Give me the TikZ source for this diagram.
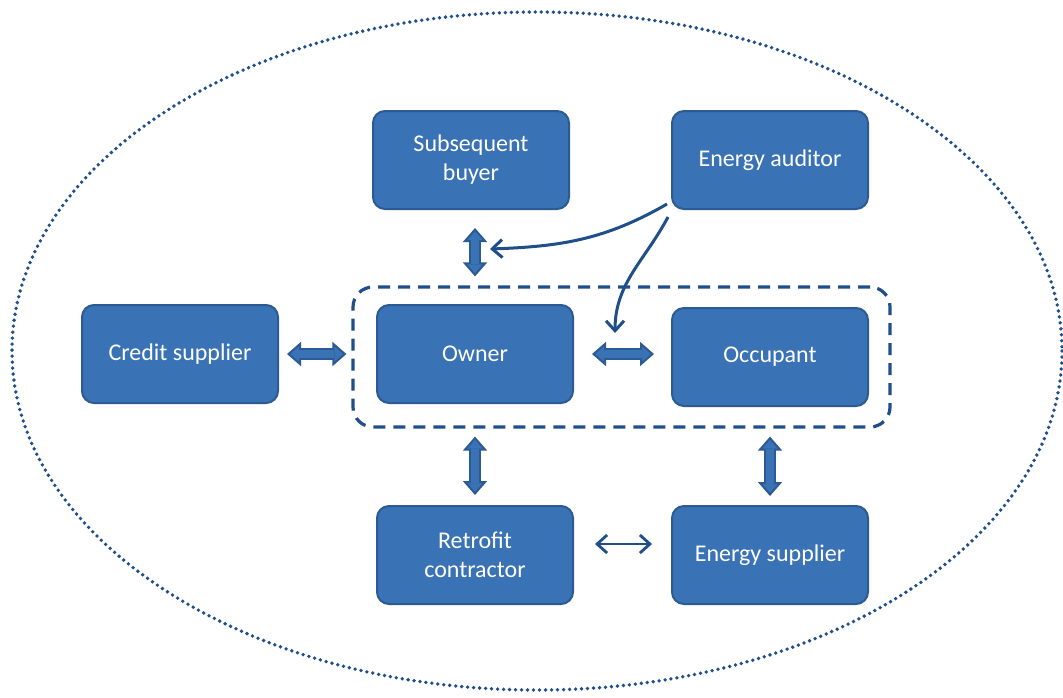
\documentclass[tikz,border=0pt]{standalone}
\usepackage{fontspec}
\setmainfont{Carlito}
\usetikzlibrary{calc, arrows.meta}
\definecolor{boxfill}{HTML}{3A72B6}
\definecolor{boxline}{HTML}{2C5A92}
\definecolor{navy}{HTML}{1F4E8A}
\tikzset{>=latex}
\tikzset{
  actor/.style={draw=boxline, line width=1pt, fill=boxfill, rounded corners=6pt,
    minimum width=98pt, minimum height=49pt, text=white, align=center,
    font=\fontsize{12}{14.5}\selectfont},
  fat/.style 2 args={shorten <=#1, shorten >=#2, draw=boxline, line width=6pt,
    {Triangle[length=7pt, width=12pt, line width=1pt, fill=boxfill]}-{Triangle[length=7pt, width=12pt, line width=1pt, fill=boxfill]},
    postaction={draw=boxfill, line width=4pt, -, shorten <=#1+6pt, shorten >=#2+6pt}},
  link/.style={draw=navy, line width=1.5pt, -{Straight Barb[length=5pt, width=9pt]}},
}

\begin{document}
\begin{tikzpicture}[x=0.5pt, y=-0.5pt]
\useasboundingbox (0,0) rectangle (1063,697);
\draw[navy, line width=1.9pt, line cap=round, dash pattern=on 0pt off 3pt]
(537,351) ellipse [x radius=525, y radius=339];

% owner and occupant together
\node[draw=navy, line width=1.6pt, dash pattern=on 6pt off 4pt, rounded corners=10pt,
minimum width=268.5pt, minimum height=70pt] (home) at (621.5,357) {};

\node[actor] (buyer) at (471,160) {Subsequent\\buyer};
\node[actor] (auditor) at (770,160) {Energy auditor};
\node[actor] (credit) at (180,354) {Credit supplier};
\node[actor] (owner) at (475,354) {Owner};
\node[actor] (occupant) at (770,357) {Occupant};
\node[actor] (retrofit) at (475,555) {Retrofit\\contractor};
\node[actor] (supplier) at (770,555) {Energy supplier};

\draw[fat={9pt}{4.5pt}] ([xshift=2pt]buyer.south) -- ([xshift=2pt]buyer.south |- home.north);
\draw[fat={4pt}{2.5pt}] (credit.east) -- (credit.east -| home.west);
\draw[fat={9pt}{8.5pt}] (owner.east) -- (owner.east -| occupant.west);
\draw[fat={4pt}{5pt}] (owner.south |- home.south) -- (retrofit.north);
\draw[fat={4pt}{4.5pt}] (occupant.south |- home.south) -- (supplier.north);

\draw[link, line width=1.4pt, {Straight Barb[length=5pt, width=9pt]}-{Straight Barb[length=5pt, width=9pt]},
shorten <=10.5pt, shorten >=9.5pt]
([yshift=5.5pt]retrofit.east) -- ([yshift=5.5pt]retrofit.east -| supplier.west);

% advice of the auditor
\coordinate (buyerlink) at (490,249);
\coordinate (pairlink) at (615,333);
\draw[link] ([shift={(-2pt,3pt)}]auditor.south west) to[out=-150, in=2] (buyerlink);
\draw[link] ([shift={(-1.5pt,-3.5pt)}]auditor.south west) to[out=-118, in=90] (pairlink);

\end{tikzpicture}
\end{document}
